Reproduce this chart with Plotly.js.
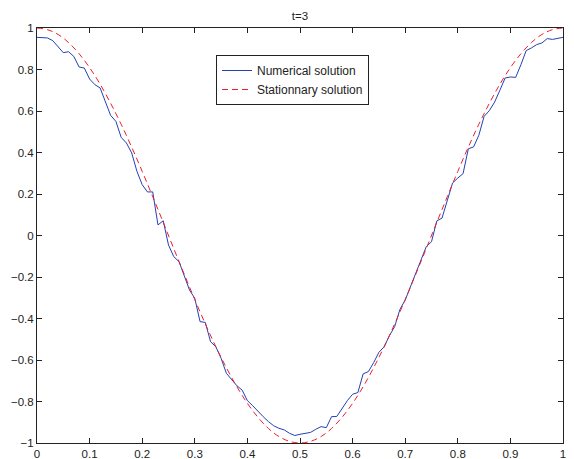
<!DOCTYPE html>
<html>
<head>
<meta charset="utf-8">
<script src="https://cdn.plot.ly/plotly-3.0.1.min.js"></script>
<style>html,body{margin:0;padding:0;background:#fff;}#chart{width:574px;height:459px;}</style>
</head>
<body>
<div id="chart"></div>
<script>
// Numerical solution
const xNum = [0,0.01,0.02,0.03,0.04,0.05,0.06,0.07,0.08,0.09,
  0.10,0.11,0.12,0.13,0.14,0.15,0.16,0.17,0.18,0.19,
  0.20,0.21,0.22,0.23,0.24,0.25,0.26,0.27,0.28,0.29,
  0.30,0.31,0.32,0.33,0.34,0.35,0.36,0.37,0.38,0.39,
  0.40,0.41,0.42,0.43,0.44,0.45,0.46,0.47,0.48,0.49,
  0.50,0.51,0.52,0.53,0.54,0.55,0.56,0.57,0.58,0.59,
  0.60,0.61,0.62,0.63,0.64,0.65,0.66,0.67,0.68,0.69,
  0.70,0.71,0.72,0.73,0.74,0.75,0.76,0.77,0.78,0.79,
  0.80,0.81,0.82,0.83,0.84,0.85,0.86,0.87,0.88,0.89,
  0.90,0.91,0.92,0.93,0.94,0.95,0.96,0.97,0.98,0.99,1.00];
const yNum = [0.955,0.952,0.952,0.939,0.912,0.881,0.886,0.863,0.812,0.807,
  0.754,0.727,0.711,0.647,0.579,0.550,0.473,0.446,0.398,0.309,
  0.245,0.210,0.210,0.051,0.071,-0.046,-0.102,-0.126,-0.198,-0.263,
  -0.303,-0.415,-0.419,-0.512,-0.536,-0.592,-0.664,-0.692,-0.724,-0.745,
  -0.796,-0.820,-0.849,-0.873,-0.897,-0.917,-0.929,-0.937,-0.953,-0.964,
  -0.958,-0.955,-0.949,-0.934,-0.921,-0.926,-0.873,-0.872,-0.833,-0.796,
  -0.765,-0.757,-0.667,-0.656,-0.613,-0.563,-0.536,-0.483,-0.439,-0.356,
  -0.311,-0.247,-0.174,-0.110,-0.054,-0.030,0.070,0.084,0.173,0.253,
  0.277,0.298,0.418,0.427,0.483,0.574,0.602,0.643,0.700,0.759,
  0.764,0.762,0.823,0.891,0.904,0.920,0.928,0.949,0.945,0.949,0.955];

// Stationary solution
const xSta = [0,0.02,0.04,0.06,0.08,0.10,0.12,0.14,0.16,0.18,
  0.20,0.22,0.24,0.26,0.28,0.30,0.32,0.34,0.36,0.38,
  0.40,0.42,0.44,0.46,0.48,0.50,0.52,0.54,0.56,0.58,
  0.60,0.62,0.64,0.66,0.68,0.70,0.72,0.74,0.76,0.78,
  0.80,0.82,0.84,0.86,0.88,0.90,0.92,0.94,0.96,0.98,1.00];
const ySta = [1,0.992,0.969,0.930,0.876,0.809,0.729,0.637,0.536,0.426,
  0.309,0.187,0.063,-0.063,-0.187,-0.309,-0.426,-0.536,-0.637,-0.729,
  -0.809,-0.876,-0.930,-0.969,-0.992,-1,-0.992,-0.969,-0.930,-0.876,
  -0.809,-0.729,-0.637,-0.536,-0.426,-0.309,-0.187,-0.063,0.063,0.187,
  0.309,0.426,0.536,0.637,0.729,0.809,0.876,0.930,0.969,0.992,1];

const xTicks = [0,0.1,0.2,0.3,0.4,0.5,0.6,0.7,0.8,0.9,1];
const yTicks = [-1,-0.8,-0.6,-0.4,-0.2,0,0.2,0.4,0.6,0.8,1];
const titleText = 't=3';
const seriesNames = ['Numerical solution', 'Stationnary solution'];

const font = {family: 'Liberation Sans, Arial, sans-serif', size: 11, color: '#222'};

const traces = [
  {x: xNum, y: yNum, type: 'scatter', mode: 'lines', name: seriesNames[0],
   line: {color: 'rgb(35,65,180)', width: 1}},
  {x: xSta, y: ySta, type: 'scatter', mode: 'lines', name: seriesNames[1],
   line: {color: 'rgb(240,30,40)', width: 1, dash: '6px,4px', shape: 'spline'}}
];

const axisCommon = {
  showgrid: false, zeroline: false, showline: true, linecolor: '#222', linewidth: 1,
  mirror: 'ticks', ticks: 'inside', ticklen: 5, tickcolor: '#222', tickwidth: 1,
  tickfont: {family: font.family, size: 11.5, color: '#222'}
};

const layout = {
  width: 574, height: 459,
  margin: {l: 37, r: 11, t: 28, b: 16},
  paper_bgcolor: '#fff', plot_bgcolor: '#fff',
  font: font,
  title: {text: titleText, font: {family: font.family, size: 11.5, color: '#222'},
          x: 0.5, xref: 'paper', xanchor: 'center', y: 1 - 16/459, yanchor: 'middle'},
  xaxis: Object.assign({}, axisCommon, {range: [0, 1], tickvals: xTicks, ticktext: xTicks.map(String)}),
  yaxis: Object.assign({}, axisCommon, {range: [-1, 1], tickvals: yTicks,
          ticktext: yTicks.map(v => (v < 0 ? '\u2212' + String(-v) : String(v)))}),
  showlegend: true,
  legend: {x: (216 - 37) / 526, y: (443 - 55) / 415, xanchor: 'left', yanchor: 'top',
           bordercolor: '#222', borderwidth: 1, bgcolor: '#fff',
           font: {family: font.family, size: 12, color: '#222'},
           tracegroupgap: 0, itemwidth: 30}
};

Plotly.newPlot('chart', traces, layout, {displayModeBar: false, staticPlot: true});
</script>
</body>
</html>
